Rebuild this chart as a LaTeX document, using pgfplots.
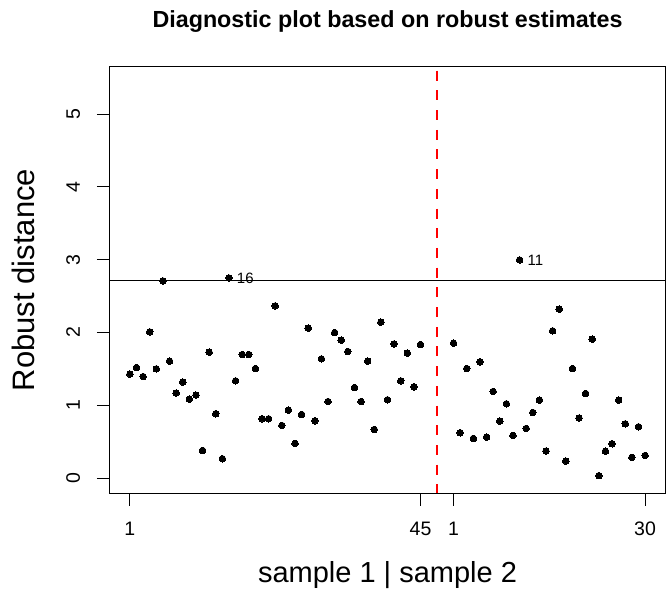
\documentclass[border=0pt]{standalone}
\usepackage{pgfplots}
\pgfplotsset{compat=1.18}
\usepackage{fontspec}
\setmainfont{Liberation Sans}
\begin{document}
\begin{tikzpicture}
\useasboundingbox (-109.3bp,-98.7bp) rectangle (556.7bp,493.3bp);
\begin{axis}[
  at={(0bp,0bp)}, anchor=south west, scale only axis,
  width=556.4bp, height=426.6bp,
  xmin=-2.12, xmax=82.12, ymin=-0.21, ymax=5.65,
  axis line style={line width=1bp, black},
  xtick={1,45,50,79}, xticklabels={1,45,1,30},
  ytick={0,1,2,3,4,5},
  xtick pos=left, ytick pos=left,
  tick align=outside, major tick length=12.5bp,
  tick style={black, line width=1bp},
  /pgf/number format/assume math mode=true,
  xticklabel style={anchor=north, inner sep=0pt, font=\fontsize{19.5bp}{23bp}\selectfont},
  xticklabel shift=16.2bp,
  yticklabel style={rotate=90, anchor=base, inner sep=0pt, font=\fontsize{19.5bp}{23bp}\selectfont},
  yticklabel shift=16.8bp,
]
% sample 1 (positions 1..45) and sample 2 (positions 50..79)
\addplot[only marks, mark=*, mark size=3.3bp, mark options={draw=black, fill=black, line width=0pt}] coordinates {
(1,1.427) (2,1.518) (3,1.394) (4,2.008) (5,1.500) (6,2.708) (7,1.606) (8,1.167) (9,1.318) (10,1.084)
(11,1.139) (12,0.379) (13,1.729) (14,0.883) (15,0.265) (17,1.335) (18,1.696) (19,1.696) (20,1.504)
(21,0.814) (22,0.814) (23,2.365) (24,0.722) (25,0.933) (26,0.475) (27,0.873) (28,2.059) (29,0.786) (30,1.637)
(31,1.051) (32,1.998) (33,1.894) (34,1.738) (35,1.243) (36,1.051) (37,1.606) (38,0.667) (39,2.141) (40,1.075)
(41,1.843) (42,1.335) (43,1.716) (44,1.253) (45,1.834)
(50,1.853) (51,0.622) (52,1.504) (53,0.544) (54,1.596) (55,0.563) (56,1.189) (57,0.782) (58,1.020) (59,0.585)
(61,0.681) (62,0.900) (63,1.071) (64,0.371) (65,2.022) (66,2.320) (67,0.233) (68,1.504) (69,0.824)
(70,1.161) (71,1.908) (72,0.032) (73,0.368) (74,0.471) (75,1.071) (76,0.745) (77,0.283) (78,0.704) (79,0.310)
};
% labelled outliers
\addplot[only marks, mark=*, mark size=3.3bp, mark options={draw=black, fill=black, line width=0pt},
  nodes near coords, point meta=explicit symbolic,
  every node near coord/.append style={anchor=west, inner sep=0pt, xshift=8bp, yshift=0bp, font=\fontsize{15bp}{17bp}\selectfont, text=black}]
  coordinates {(16,2.749) [16] (60,2.996) [11]};
% cutoff line
\addplot[black, line width=1bp] coordinates {(-2.12,2.716) (82.12,2.716)};
% separator between samples
\addplot[red, line width=2.6bp, dash pattern=on 10bp off 9.7bp, dash phase=15.7bp] coordinates {(47.5,5.65) (47.5,-0.21)};
\end{axis}
\node[font=\bfseries\fontsize{23.3bp}{27bp}\selectfont, anchor=base] at (278.2bp,465.3bp) {Diagnostic plot based on robust estimates};
\node[font=\fontsize{29bp}{34bp}\selectfont, anchor=base] at (278.2bp,-88.7bp) {sample 1 | sample 2};
\node[font=\fontsize{31bp}{36bp}\selectfont, anchor=base, rotate=90] at (-74.3bp,213.3bp) {Robust distance};
\end{tikzpicture}
\end{document}
